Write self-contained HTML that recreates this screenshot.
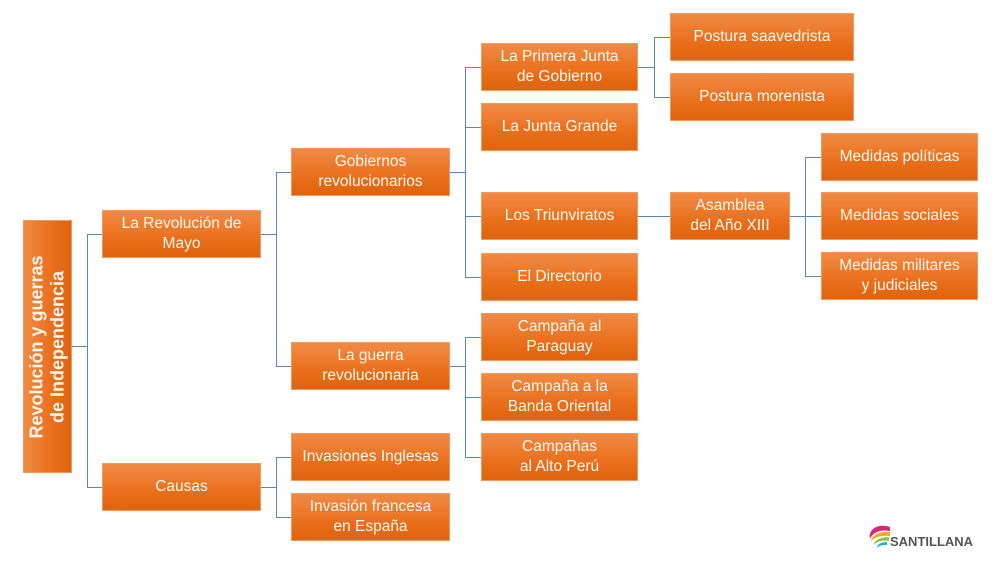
<!DOCTYPE html>
<html><head><meta charset="utf-8"><style>
html,body{margin:0;padding:0;background:#fff;width:993px;height:566px;overflow:hidden;font-family:"Liberation Sans",sans-serif;}
.b{position:absolute;box-sizing:border-box;background:linear-gradient(#f18a44,#e96f1c 60%,#e0630e);border:1px solid #f29a5d;color:#fff8ee;font-size:15.5px;line-height:20px;text-align:center;display:flex;align-items:center;justify-content:center;}
.l{position:absolute;background:#5b86b8;}
.h{height:1px}.v{width:1px}
</style></head><body>
<div class="b" style="left:23px;top:220px;width:49px;height:253px;background:linear-gradient(90deg,#f18a44,#e96f1c 60%,#e0630e);"><div style="transform:rotate(-90deg);white-space:nowrap;font-weight:bold;font-size:18px;line-height:21px;">Revolución y guerras<br>de Independencia</div></div>
<!-- connectors -->
<div class="l h" style="left:72px;top:346px;width:15px"></div>
<div class="l v" style="left:87px;top:234px;height:254px"></div>
<div class="l h" style="left:87px;top:234px;width:15px"></div>
<div class="l h" style="left:87px;top:487px;width:15px"></div>

<div class="l h" style="left:261px;top:234px;width:15px"></div>
<div class="l v" style="left:276px;top:172px;height:195px"></div>
<div class="l h" style="left:276px;top:172px;width:15px"></div>
<div class="l h" style="left:276px;top:366px;width:15px"></div>

<div class="l h" style="left:261px;top:487px;width:15px"></div>
<div class="l v" style="left:276px;top:457px;height:61px"></div>
<div class="l h" style="left:276px;top:457px;width:15px"></div>
<div class="l h" style="left:276px;top:517px;width:15px"></div>

<div class="l h" style="left:450px;top:172px;width:15px"></div>
<div class="l v" style="left:465px;top:67px;height:211px"></div>
<div class="l h" style="left:465px;top:67px;width:16px"></div>
<div class="l h" style="left:465px;top:127px;width:16px"></div>
<div class="l h" style="left:465px;top:216px;width:16px"></div>
<div class="l h" style="left:465px;top:277px;width:16px"></div>

<div class="l h" style="left:450px;top:366px;width:15px"></div>
<div class="l v" style="left:465px;top:337px;height:121px"></div>
<div class="l h" style="left:465px;top:337px;width:16px"></div>
<div class="l h" style="left:465px;top:397px;width:16px"></div>
<div class="l h" style="left:465px;top:457px;width:16px"></div>

<div class="l h" style="left:638px;top:67px;width:16px"></div>
<div class="l v" style="left:654px;top:37px;height:61px"></div>
<div class="l h" style="left:654px;top:37px;width:16px"></div>
<div class="l h" style="left:654px;top:97px;width:16px"></div>

<div class="l h" style="left:638px;top:216px;width:32px"></div>
<div class="l h" style="left:790px;top:216px;width:15px"></div>
<div class="l v" style="left:805px;top:157px;height:120px"></div>
<div class="l h" style="left:805px;top:157px;width:16px"></div>
<div class="l h" style="left:805px;top:216px;width:16px"></div>
<div class="l h" style="left:805px;top:276px;width:16px"></div>

<!-- boxes -->
<div class="b" style="left:102px;top:210px;width:159px;height:48px">La Revolución de<br>Mayo</div>
<div class="b" style="left:102px;top:463px;width:159px;height:48px">Causas</div>
<div class="b" style="left:291px;top:148px;width:159px;height:48px">Gobiernos<br>revolucionarios</div>
<div class="b" style="left:291px;top:342px;width:159px;height:48px">La guerra<br>revolucionaria</div>
<div class="b" style="left:291px;top:433px;width:159px;height:48px">Invasiones Inglesas</div>
<div class="b" style="left:291px;top:493px;width:159px;height:48px">Invasión francesa<br>en España</div>
<div class="b" style="left:481px;top:43px;width:157px;height:48px">La Primera Junta<br>de Gobierno</div>
<div class="b" style="left:481px;top:103px;width:157px;height:48px">La Junta Grande</div>
<div class="b" style="left:481px;top:192px;width:157px;height:48px">Los Triunviratos</div>
<div class="b" style="left:481px;top:253px;width:157px;height:48px">El Directorio</div>
<div class="b" style="left:481px;top:313px;width:157px;height:48px">Campaña al<br>Paraguay</div>
<div class="b" style="left:481px;top:373px;width:157px;height:48px">Campaña a la<br>Banda Oriental</div>
<div class="b" style="left:481px;top:433px;width:157px;height:48px">Campañas<br>al Alto Perú</div>
<div class="b" style="left:670px;top:13px;width:184px;height:48px">Postura saavedrista</div>
<div class="b" style="left:670px;top:73px;width:184px;height:48px">Postura morenista</div>
<div class="b" style="left:670px;top:192px;width:120px;height:48px">Asamblea<br>del Año XIII</div>
<div class="b" style="left:821px;top:133px;width:157px;height:48px">Medidas políticas</div>
<div class="b" style="left:821px;top:192px;width:157px;height:48px">Medidas sociales</div>
<div class="b" style="left:821px;top:252px;width:157px;height:48px">Medidas militares<br>y judiciales</div>

<!-- logo -->
<svg style="position:absolute;left:866px;top:523px" width="30" height="28" viewBox="0 0 30 28">
<path d="M24 4 C12 0 2 6 4 16 C6 10 14 6 24 8Z" fill="#e0207a"/>
<path d="M24 9 C14 8 6 12 5 18 C9 14 16 12 24 13Z" fill="#f5a623"/>
<path d="M23 14 C15 14 8 17 8 22 C11 18 17 17 23 18Z" fill="#8cc63f"/>
<path d="M21 19 C16 19 11 21 11 25 C14 22 17 22 21 22Z" fill="#29abe2"/>
</svg>
<div style="position:absolute;left:890px;top:534px;font-weight:bold;font-size:13px;color:#555;letter-spacing:0px;">SANTILLANA</div>
</body></html>
